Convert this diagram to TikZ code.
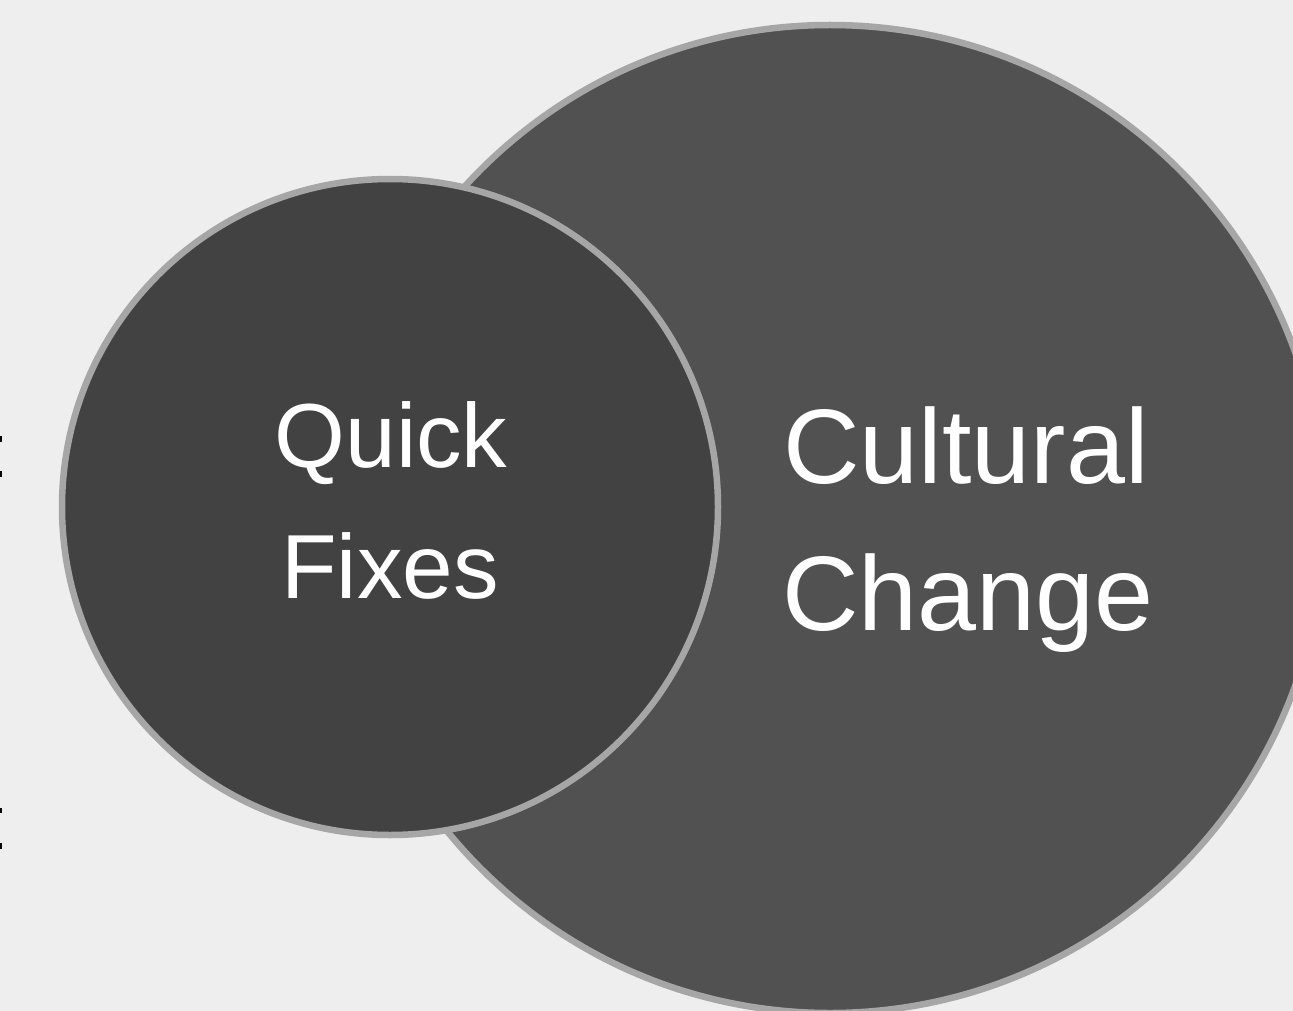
\documentclass[tikz,border=0pt]{standalone}
\usepackage{fontspec}
\setmainfont{Liberation Sans}
\definecolor{bg}{HTML}{EEEEEE}
\definecolor{bigfill}{HTML}{515151}
\definecolor{smallfill}{HTML}{424242}
\definecolor{rim}{HTML}{A6A6A6}
\tikzset{
  disc/.style={draw=rim, line width=6.5pt},
  lbl/.style={text=white, anchor=base, inner sep=0pt},
  tick/.style={fill=black, draw=none}
}
\begin{document}
\begin{tikzpicture}[x=1pt,y=-1pt]
\useasboundingbox (0,0) rectangle (1293,1011);
\clip (0,0) rectangle (1293,1011);
\fill[bg] (0,0) rectangle (1293,1011);
\node[disc, circle, fill=bigfill, minimum size=988pt, inner sep=0pt] (big) at (830,519) {};
\node[disc, circle, fill=smallfill, minimum size=656pt, inner sep=0pt] (small) at (390,507) {};
\node[lbl, font=\fontsize{91}{91}\selectfont] (q1) at (391,467) {Quick};
\node[lbl, font=\fontsize{91}{91}\selectfont] (q2) at (390,598) {Fixes};
\node[lbl, font=\fontsize{106}{106}\selectfont] (c1) at (966,483) {Cultural};
\node[lbl, font=\fontsize{106}{106}\selectfont] (c2) at (968,630) {Change};
\fill[tick] (0,436) rectangle (1.5,442);
\fill[tick] (0,471) rectangle (1.5,477);
\fill[tick] (0,808) rectangle (1.5,813);
\fill[tick] (0,843) rectangle (1.5,849);
\end{tikzpicture}
\end{document}
